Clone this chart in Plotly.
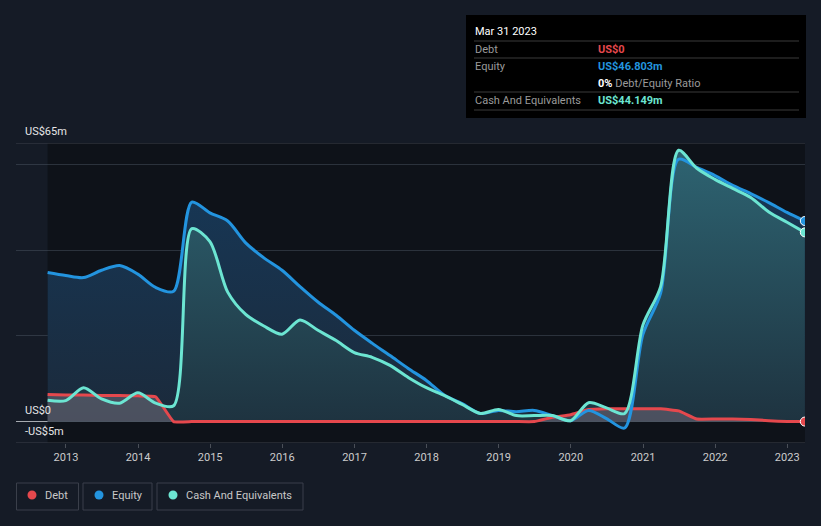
import plotly.graph_objects as go
import pandas as pd

dates = [d.strftime("%Y-%m-%d") for d in pd.date_range("2012-09-30", "2023-03-31", freq="QE")]

debt = [6.3, 6.2, 6.2, 6.1, 6.1, 6.0, 5.8, 0.0,
        0.0, 0.0, 0.0, 0.0, 0.0, 0.0, 0.0, 0.0,
        0.0, 0.0, 0.0, 0.0, 0.0, 0.0, 0.0, 0.0,
        0.0, 0.0, 0.0, 0.0, 1.0, 1.6, 2.8, 3.0,
        3.0, 3.0, 3.0, 2.5, 0.6, 0.6, 0.6, 0.5,
        0.2, 0.0, 0.0]

equity = [34.8, 34.1, 33.6, 35.3, 36.4, 34.4, 31.3, 30.4,
          51.2, 48.7, 46.8, 41.7, 38.2, 35.3, 31.5, 27.9,
          24.8, 21.3, 18.3, 15.4, 12.4, 9.6, 6.2, 4.2,
          1.9, 2.6, 2.3, 2.6, 1.4, 0.2, 2.6, 0.7,
          -1.5, 20.3, 30.0, 61.2, 59.3, 57.4, 55.1, 53.2,
          51.1, 48.8, 46.803]

cash = [5.0, 4.9, 7.9, 5.3, 4.3, 6.7, 4.3, 3.7,
        45.0, 42.0, 30.2, 25.0, 22.3, 20.4, 23.7, 21.3,
        18.9, 16.1, 15.0, 13.1, 10.3, 7.9, 6.1, 4.0,
        1.9, 2.8, 1.4, 1.4, 1.4, 0.2, 4.4, 3.2,
        1.9, 22.5, 31.5, 63.3, 59.1, 56.5, 54.4, 52.3,
        48.9, 46.5, 44.149]

x_ticks = ["2013", "2014", "2015", "2016", "2017", "2018", "2019", "2020", "2021", "2022", "2023"]
y_labels = ["US$65m", "US$0", "-US$5m"]
legend_names = ["Debt", "Equity", "Cash And Equivalents"]

RED = "#e5484d"
BLUE = "#2394df"
TEAL = "#6ce5d2"
FONT = "Roboto"

W, H = 821, 526
L, R, T, B = 16, 16, 143, 83
PW, PH = W - L - R, H - T - B


def px(x):
    return (x - L) / PW


def py(y):
    return (H - B - y) / PH


fig = go.Figure()

# fills
fig.add_trace(go.Scatter(x=dates, y=equity, mode="none", fill="tozeroy",
                         fillgradient=dict(type="vertical", start=0, stop=65,
                                           colorscale=[[0, "#1b2a3b"], [1, "#16395a"]]),
                         line_shape="spline", line_smoothing=0.8,
                         hoverinfo="skip", showlegend=False))
fig.add_trace(go.Scatter(x=dates, y=cash, mode="none", fill="tozeroy",
                         fillgradient=dict(type="vertical", start=0, stop=65,
                                           colorscale=[[0, "#1e3340"], [1, "#2e6573"]]),
                         line_shape="spline", line_smoothing=0.8,
                         hoverinfo="skip", showlegend=False))
fig.add_trace(go.Scatter(x=dates, y=debt, mode="none", fill="tozeroy",
                         fillcolor="rgba(105,100,115,0.6)", line_shape="spline",
                         line_smoothing=0.3, hoverinfo="skip", showlegend=False))

# lines
for ys, col, sm in [(debt, RED, 0.3), (equity, BLUE, 0.8), (cash, TEAL, 0.8)]:
    fig.add_trace(go.Scatter(x=dates, y=ys, mode="lines",
                             line=dict(color=col, width=3, shape="spline", smoothing=sm),
                             hoverinfo="skip", showlegend=False))

# end markers
for ys, col in [(debt, RED), (equity, BLUE), (cash, TEAL)]:
    fig.add_trace(go.Scatter(x=[dates[-1]], y=[ys[-1]], mode="markers",
                             marker=dict(color=col, size=9, line=dict(color="#ffffff", width=1)),
                             hoverinfo="skip", showlegend=False))

shapes = []
# darker plot background for data span
shapes.append(dict(type="rect", xref="x", yref="y", x0=dates[0], x1="2023-04-01",
                   y0=-5, y1=65, fillcolor="#0e1219", line_width=0, layer="below"))
# top and bottom border lines
for yv in [65, -5]:
    shapes.append(dict(type="line", xref="paper", yref="y", x0=0, x1=1, y0=yv, y1=yv,
                       line=dict(color="#3c414b", width=1), layer="above"))

# tooltip box
shapes.append(dict(type="rect", xref="paper", yref="paper", x0=px(466), x1=px(806),
                   y0=py(118), y1=py(15), fillcolor="#000000", line_width=0))
for yy in [41, 58, 92, 110]:
    shapes.append(dict(type="line", xref="paper", yref="paper", x0=px(474), x1=px(799),
                       y0=py(yy), y1=py(yy), line=dict(color="#3a3a3a", width=1)))

annotations = []


def txt(x, y, s, color, size=11, anchor="left"):
    annotations.append(dict(x=px(x), y=py(y), xref="paper", yref="paper", text=s,
                            showarrow=False, xanchor=anchor, yanchor="middle",
                            xshift=-1,
                            font=dict(family=FONT, size=size, color=color)))


txt(474, 31, "Mar 31 2023", "#ffffff", 11)
txt(474, 49, "Debt", "#9a9a9a")
txt(597, 49, "<b>US$0</b>", RED)
txt(474, 66, "Equity", "#9a9a9a")
txt(597, 66, "<b>US$46.803m</b>", BLUE)
txt(597, 83, "<b>0%</b> <span style='color:#9a9a9a'>Debt/Equity Ratio</span>", "#ffffff")
txt(474, 100, "Cash And Equivalents", "#9a9a9a")
txt(597, 100, "<b>US$44.149m</b>", TEAL)

# y labels
txt(24, 131, y_labels[0], "#e6e6e6")
txt(24, 410, y_labels[1], "#e6e6e6")
txt(24, 431, y_labels[2], "#e6e6e6")

# legend
boxes = [(16.5, 78.5), (83, 152), (157, 303)]
dots = [32, 99, 173]
texts = [44, 111, 185]
cols = [RED, BLUE, TEAL]
for (bx0, bx1), dx, tx, c, name in zip(boxes, dots, texts, cols, legend_names):
    shapes.append(dict(type="rect", xref="paper", yref="paper", x0=px(bx0), x1=px(bx1),
                       y0=py(510), y1=py(483), line=dict(color="#3a3f4a", width=1),
                       fillcolor="rgba(0,0,0,0)"))
    shapes.append(dict(type="circle", xref="paper", yref="paper", xsizemode="pixel",
                       ysizemode="pixel", xanchor=px(dx), yanchor=py(495),
                       x0=-4.5, x1=4.5, y0=-4.5, y1=4.5, fillcolor=c, line_width=0))
    txt(tx, 495, name, "#c8c8c8", 11)

fig.update_layout(
    width=W, height=H,
    margin=dict(l=L, r=R, t=T, b=B),
    paper_bgcolor="#151b26",
    plot_bgcolor="#151b26",
    font=dict(family=FONT, color="#cccccc", size=11),
    showlegend=False,
    hovermode=False,
    shapes=shapes,
    annotations=annotations,
    xaxis=dict(range=["2012-04-23", "2023-04-01"], type="date",
               tickvals=[f"{t}-01-01" for t in x_ticks], ticktext=x_ticks,
               showgrid=False, zeroline=False, showline=False,
               ticks="outside", ticklen=4, tickcolor="#4a4f58",
               tickfont=dict(family=FONT, size=11, color="#cccccc")),
    yaxis=dict(range=[-5, 65], showticklabels=False, tickvals=[20, 40, 60],
               showgrid=True, gridcolor="rgba(80,90,105,0.45)", gridwidth=1,
               zeroline=True, zerolinecolor="#a7abb1", zerolinewidth=1.5,
               showline=False, fixedrange=True, layer="above traces"),
)

fig.write_html("out.html", config={"displayModeBar": False, "staticPlot": True},
               post_script="document.body.style.margin='0';document.body.style.overflow='hidden';")
